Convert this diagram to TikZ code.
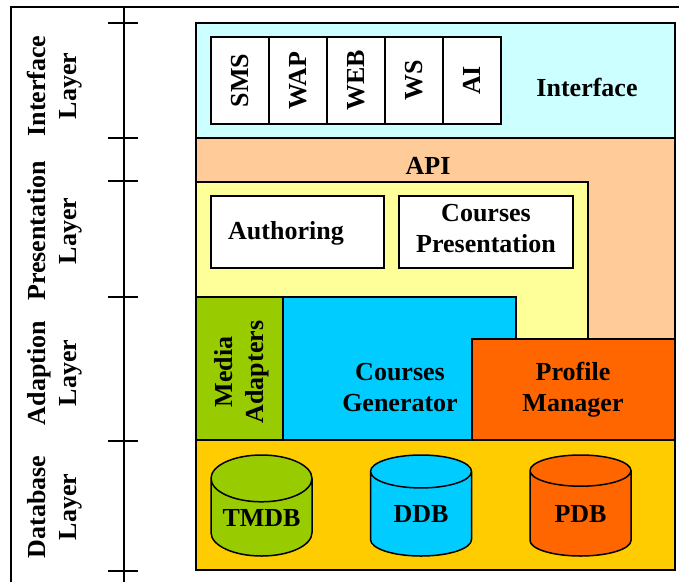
\documentclass[tikz,border=0pt]{standalone}
\usepackage{fontspec}
\setmainfont{Liberation Serif}
\usetikzlibrary{shapes.geometric,positioning}
\definecolor{ifcyan}{HTML}{CCFFFF}
\definecolor{apipeach}{HTML}{FFCC99}
\definecolor{presyellow}{HTML}{FFFF99}
\definecolor{mediagreen}{HTML}{99CC00}
\definecolor{genblue}{HTML}{00CCFF}
\definecolor{proforange}{HTML}{FF6600}
\definecolor{dbgold}{HTML}{FFCC00}
\tikzstyle{layerbox} = [draw,line width=2pt,rectangle,anchor=north west,inner sep=0,outer sep=0]
\tikzstyle{whitebox} = [layerbox,fill=white]
\tikzstyle{txt} = [font=\fontsize{26}{31}\selectfont\bfseries,align=center,inner sep=0]
\tikzstyle{sidetxt} = [txt,rotate=90]
\tikzstyle{db} = [draw,line width=1.5pt,cylinder,shape border rotate=90,aspect=0.6,minimum width=101pt,minimum height=101pt,inner sep=0,anchor=shape center,font=\fontsize{26}{31}\selectfont\bfseries]
\tikzstyle{tick} = [-,line width=1.5pt]
\def \cw {58pt}

\begin{document}
\begin{tikzpicture}[x=1pt,y=-1pt,node distance=0pt]
      \useasboundingbox (0,0) rectangle (679,582);
      % frame and layer axis
      \draw[line width=2pt] (679,7) -- (11,7) -- (11,582);
      \draw[line width=2pt] (124,7) -- (124,582);
      \draw[tick] (108,23) -- (138,23);
      \draw[tick] (108,138) -- (138,138);
      \draw[tick] (108,181) -- (138,181);
      \draw[tick] (108,297) -- (138,297);
      \draw[tick] (108,441) -- (138,441);
      \draw[tick] (108,571) -- (138,571);
      \node[sidetxt] (lif) at (55,86) {Interface\\Layer};
      \node[sidetxt] (lpr) at (55,231) {Presentation\\Layer};
      \node[sidetxt] (lad) at (55,373) {Adaption\\Layer};
      \node[sidetxt] (ldb) at (55,507) {Database\\Layer};
      % layers
      \node[layerbox,fill=ifcyan,minimum width=479pt,minimum height=115pt] (iface) at (196,23) {};
      \node[layerbox,fill=apipeach,minimum width=479pt,minimum height=302pt] (api) at (196,138) {};
      \node[layerbox,fill=presyellow,minimum width=392pt,minimum height=258pt] (pres) at (196,182) {};
      \node[layerbox,fill=mediagreen,minimum width=87pt,minimum height=143pt] (media) at (196,297) {};
      \node[layerbox,fill=genblue,minimum width=233pt,minimum height=143pt] (gen) at (283,297) {};
      \node[layerbox,fill=proforange,minimum width=203pt,minimum height=101pt] (prof) at (472,339) {};
      \node[layerbox,fill=dbgold,minimum width=479pt,minimum height=130pt] (dbase) at (196,440) {};
      % interface channels
      \node[whitebox,minimum width=\cw,minimum height=87pt] (sms) at (211,37) {};
      \node[whitebox,minimum width=\cw,minimum height=87pt,right=of sms.north east,anchor=north west] (wap) {};
      \node[whitebox,minimum width=\cw,minimum height=87pt,right=of wap.north east,anchor=north west] (web) {};
      \node[whitebox,minimum width=\cw,minimum height=87pt,right=of web.north east,anchor=north west] (ws) {};
      \node[whitebox,minimum width=\cw,minimum height=87pt,right=of ws.north east,anchor=north west] (ai) {};
      \node[txt] at (sms.center) {\rotatebox{90}{SMS}};
      \node[txt] at (wap.center) {\rotatebox{90}{WAP}};
      \node[txt] at (web.center) {\rotatebox{90}{WEB}};
      \node[txt] at (ws.center) {\rotatebox{90}{WS}};
      \node[txt] at (ai.center) {\rotatebox{90}{AI}};
      \node[txt] (iftxt) at (587,87) {Interface};
      \node[txt] (apitxt) at (428,166) {API};
      % presentation
      \node[whitebox,minimum width=173pt,minimum height=72pt] (auth) at (211,196) {};
      \node[whitebox,minimum width=174pt,minimum height=72pt] (cpres) at (399,196) {};
      \node[txt] at (286,233) {Authoring};
      \node[txt] at (486,229) {Courses\\Presentation};
      % adaption
      \node[sidetxt] (mediatxt) at (242,372) {Media\\Adapters};
      \node[txt] (gentxt) at (400,388) {Courses\\Generator};
      \node[txt] (proftxt) at (573,390) {Profile\\Manager};
      % databases
      \node[db,fill=mediagreen] (tmdb) at (261.5,505.5) {TMDB};
      \node[db,fill=genblue] (ddb) at (421,505.5) {DDB};
      \node[db,fill=proforange] (pdb) at (580.5,505.5) {PDB};
    \end{tikzpicture}
\end{document}
